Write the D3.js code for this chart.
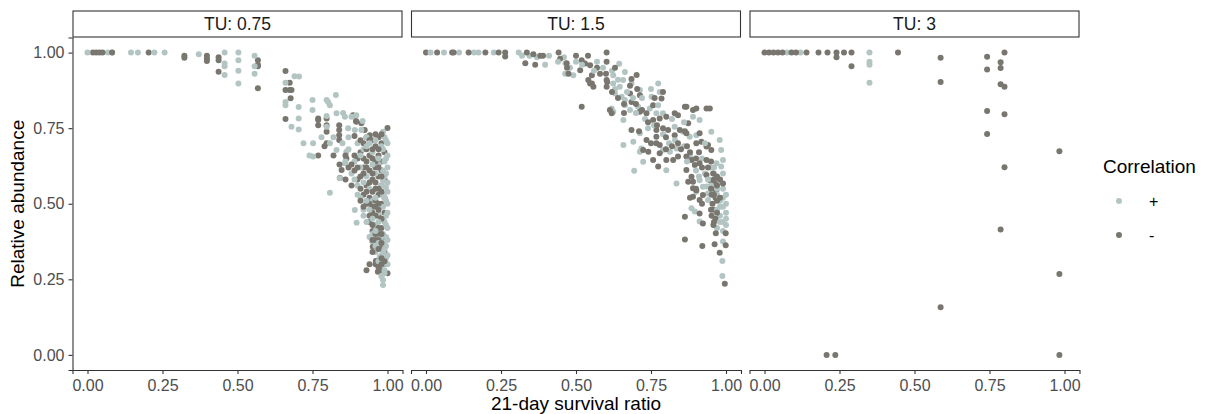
<!DOCTYPE html>
<html>
<head>
<meta charset="utf-8">
<script src="https://cdn.jsdelivr.net/npm/d3@7"></script>
<style>
  body { margin: 0; background: #fff; }
  svg { display: block; font-family: "Liberation Sans", Arial, Helvetica, sans-serif; }
</style>
</head>
<body>
<div id="chart"></div>
<script>
// facet labels
const panels = ['TU: 0.75', 'TU: 1.5', 'TU: 3'];
const xTicks = [0, 0.25, 0.5, 0.75, 1];
const yTicks = [0, 0.25, 0.5, 0.75, 1];
const corrLevels = ['+', '-'];

// [survival ratio, relative abundance]
const tu075Pos = [
  [0,1],[0.068,1],[0.082,1],[0.145,1],[0.168,1],[0.223,1],[0.257,1],
  [0.371,0.995],[0.457,1],[0.457,0.964],[0.457,0.955],[0.457,0.926],[0.503,1],[0.503,0.975],[0.503,0.94],[0.503,0.898],
  [0.557,0.99],[0.557,0.955],[0.557,0.93],
  [0.66,0.90],[0.69,0.922],[0.705,0.921],[0.66,0.837],[0.66,0.826],[0.704,0.82],[0.68,0.755],[0.704,0.782],[0.704,0.746],
  [0.75,0.843],[0.75,0.81],[0.797,0.843],[0.828,0.86],[0.808,0.826],[0.797,0.79],[0.802,0.837],[0.83,0.799],[0.852,0.80],
  [0.858,0.788],[0.88,0.788],[0.896,0.793],[0.869,0.75],[0.891,0.744],[0.917,0.774],[0.913,0.744],[0.797,0.755],[0.985,0.738],
  [0.752,0.70],[0.752,0.656],[0.808,0.70],[0.83,0.678],[0.863,0.672],[0.858,0.634],[0.841,0.584],[0.808,0.536],
  [0.891,0.479],[0.897,0.437],[0.949,0.375],[0.974,0.325],[0.985,0.248],[0.985,0.231],
  [0.90,0.70],[0.93,0.72],[0.96,0.71],[0.99,0.72],[1.0,0.70],[0.92,0.68],[0.95,0.67],[0.98,0.69],[1.0,0.66],
  [0.89,0.64],[0.91,0.62],[0.97,0.63],[0.99,0.64],[1.0,0.62],[0.88,0.60],[0.93,0.59],[0.96,0.60],[0.99,0.59],[1.0,0.57],
  [0.90,0.56],[0.94,0.55],[0.98,0.56],[1.0,0.54],[0.91,0.52],[0.95,0.51],[0.99,0.52],[1.0,0.50],[0.92,0.48],[0.97,0.47],
  [1.0,0.47],[0.93,0.44],[0.96,0.43],[0.99,0.44],[1.0,0.42],[0.95,0.40],[0.98,0.39],[1.0,0.38],[0.96,0.36],[0.99,0.35],
  [1.0,0.33],[0.97,0.31],[1.0,0.30],[0.99,0.28],[0.98,0.26],
  [0.995,0.71],[0.985,0.68],[0.995,0.65],[0.985,0.61],[0.995,0.60],[0.985,0.575],[0.995,0.555],[0.985,0.53],[0.995,0.51],
  [0.985,0.49],[0.995,0.46],[0.985,0.45],[0.995,0.43],[0.985,0.40],[0.995,0.39],[0.985,0.37],[0.995,0.36],[0.985,0.34],
  [0.995,0.32],[0.985,0.30],[0.94,0.70],[0.91,0.66],[0.87,0.68],[0.86,0.64],[0.89,0.58],[0.92,0.57],[0.90,0.53],[0.93,0.51],
  [0.92,0.46],[0.94,0.48],[0.96,0.52],[0.95,0.45],[0.97,0.44],[0.94,0.39],[0.96,0.41],[0.97,0.37],[0.98,0.33],[0.96,0.34],
  [0.99,0.27],[0.97,0.65],[0.95,0.63],[0.85,0.70],[0.87,0.72],[0.82,0.72],[0.93,0.69],[0.78,0.72],[0.72,0.70],[0.74,0.66]
];
const tu075Neg = [
  [0.018,1],[0.029,1],[0.04,1],[0.05,1],[0.082,1],[0.204,1],[0.323,0.99],[0.323,0.983],[0.398,0.99],[0.398,0.98],[0.398,0.972],
  [0.437,0.985],[0.437,0.975],[0.437,0.937],[0.568,0.975],[0.568,0.96],[0.568,0.955],[0.568,0.882],
  [0.66,0.939],[0.674,0.90],[0.66,0.876],[0.674,0.876],[0.68,0.876],[0.677,0.849],[0.66,0.78],
  [0.769,0.782],[0.769,0.777],[0.769,0.76],[0.797,0.782],[0.797,0.76],[0.797,0.738],[0.839,0.76],[0.839,0.744],[0.839,0.727],
  [0.839,0.711],[0.885,0.793],[0.895,0.774],[0.89,0.724],[1.0,0.751],[0.896,0.771],[0.913,0.766],[0.924,0.744],[0.941,0.727],
  [0.769,0.66],[0.797,0.70],[0.863,0.65],[0.847,0.612],[0.841,0.585],
  [0.93,0.72],[0.95,0.71],[0.97,0.72],[0.92,0.70],[0.96,0.69],[0.98,0.70],[0.91,0.67],[0.94,0.66],[0.97,0.66],[0.99,0.67],
  [0.90,0.65],[0.93,0.64],[0.95,0.65],[0.98,0.64],[0.92,0.62],[0.94,0.61],[0.96,0.62],[0.98,0.61],[0.91,0.59],[0.95,0.58],
  [0.97,0.59],[0.99,0.58],[0.93,0.56],[0.96,0.55],[0.98,0.56],[0.92,0.53],[0.94,0.52],[0.97,0.53],[0.99,0.52],[0.93,0.50],
  [0.96,0.49],[0.98,0.50],[0.95,0.47],[0.97,0.46],[0.99,0.47],[0.94,0.44],[0.96,0.43],[0.98,0.42],[0.95,0.41],[0.97,0.40],
  [0.99,0.39],[0.96,0.38],[0.98,0.36],[0.951,0.358],[0.99,0.34],[0.961,0.311],[0.97,0.31],[0.99,0.30],[0.96,0.30],[0.93,0.28],
  [0.968,0.275],[0.98,0.28],[1.0,0.27],[0.91,0.55],[0.88,0.56],[0.90,0.58],[0.87,0.62],[0.89,0.61],
  [0.94,0.71],[0.96,0.73],[0.98,0.73],[0.91,0.71],[0.93,0.68],[0.95,0.68],[0.97,0.68],[0.89,0.66],[0.92,0.65],[0.96,0.64],
  [0.97,0.62],[0.93,0.62],[0.95,0.60],[0.92,0.60],[0.98,0.59],[0.94,0.57],[0.96,0.57],[0.97,0.55],[0.95,0.54],[0.93,0.54],
  [0.98,0.54],[0.96,0.51],[0.97,0.50],[0.94,0.50],[0.95,0.49],[0.97,0.48],[0.96,0.46],[0.98,0.45],[0.94,0.46],[0.95,0.43],
  [0.97,0.42],[0.96,0.40],[0.98,0.40],[0.97,0.38],[0.95,0.38],[0.98,0.37],[0.97,0.35],[0.95,0.34],[0.98,0.32],[0.97,0.29],
  [0.98,0.30],[0.94,0.30],[0.99,0.31],[0.86,0.66],[0.88,0.63],[0.90,0.62],[0.82,0.66],[0.79,0.69],[0.84,0.63],[0.86,0.58],
  [0.91,0.51],[0.92,0.49]
];
const tu15Pos = [
  [0.015,1],[0.06,1],[0.11,1],[0.16,1],[0.175,1],[0.226,1],[0.309,1],[0.32,0.99],[0.345,0.99],[0.37,0.985],[0.397,0.96],
  [0.46,0.985],[0.465,0.965],[0.464,0.93],[0.491,0.925],[0.48,0.95],[0.624,0.925],[0.644,0.963],[0.663,0.936],[0.657,0.909],
  [0.624,0.898],[0.646,0.887],[0.685,0.898],[0.63,0.865],[0.652,0.854],[0.663,0.843],[0.713,0.876],[0.752,0.854],[0.774,0.898],
  [0.779,0.870],[0.619,0.815],[0.624,0.804],[0.663,0.826],[0.68,0.81],[0.707,0.821],[0.746,0.815],[0.774,0.826],[0.768,0.799],
  [0.79,0.799],[0.89,0.788],[0.912,0.777],[0.951,0.738],[0.658,0.777],[0.713,0.733],[0.691,0.705],[0.658,0.694],[0.718,0.683],
  [0.713,0.672],[0.829,0.755],[0.857,0.738],[0.879,0.722],[0.901,0.727],[0.979,0.711],[0.984,0.678],[0.79,0.678],[0.813,0.672],
  [0.835,0.683],[0.801,0.611],[0.724,0.639],[0.694,0.609],[0.835,0.567],[0.912,0.578],[0.923,0.556],[0.94,0.534],[0.979,0.578],
  [0.984,0.623],[0.99,0.645],[0.968,0.634],[0.88,0.66],[0.92,0.65],[0.95,0.62],[0.96,0.60],[0.93,0.60],
  [0.901,0.54],[0.885,0.485],[0.896,0.474],[0.912,0.441],[0.935,0.557],[0.946,0.534],[0.94,0.512],
  [0.98,0.57],[0.99,0.55],[1.0,0.53],[0.98,0.51],[0.99,0.49],[1.0,0.47],[0.98,0.46],[0.99,0.44],[1.0,0.43],[0.97,0.42],
  [0.99,0.41],[0.99,0.375],[0.988,0.311],[0.988,0.261],
  [0.50,0.97],[0.52,0.96],[0.57,0.97],[0.59,0.95],[0.62,0.94],[0.63,0.88],[0.67,0.87],[0.69,0.85],[0.70,0.80],[0.73,0.78],
  [0.74,0.75],[0.76,0.76],[0.79,0.73],[0.81,0.70],[0.83,0.71],[0.86,0.69],[0.87,0.64],[0.90,0.61],[0.91,0.59],[0.94,0.58],
  [0.95,0.56],[0.97,0.55],[0.97,0.53],[0.98,0.49],[0.97,0.48],[1.0,0.50],[1.0,0.45],[0.98,0.44],[0.99,0.52],[0.96,0.62],
  [0.99,0.60],[0.93,0.70],[0.86,0.77],[0.82,0.78],[0.72,0.85],[0.75,0.88],[0.64,0.91],[0.56,0.94],[0.41,0.99],[0.44,0.97]
];
const tu15Neg = [
  [0,1],[0.037,1],[0.087,1],[0.092,1],[0.142,1],[0.198,1],[0.242,1],[0.264,1],[0.264,0.987],[0.336,1],[0.331,0.965],[0.364,0.96],
  [0.358,0.995],[0.381,0.99],[0.39,0.99],[0.442,1],[0.447,0.98],[0.469,0.965],[0.475,0.93],[0.47,0.95],[0.519,0.975],[0.53,0.964],
  [0.547,0.958],[0.514,0.942],[0.553,0.925],[0.541,0.909],[0.553,0.898],[0.519,0.821],[0.602,1],[0.602,0.97],[0.602,0.909],
  [0.602,0.887],[0.547,0.898],[0.558,0.887],
  [0.68,0.865],[0.713,0.859],[0.757,0.826],[0.785,0.848],[0.619,0.799],[0.713,0.804],[0.735,0.799],[0.757,0.777],[0.779,0.782],
  [0.801,0.788],[0.829,0.799],[0.84,0.793],[0.868,0.821],[0.89,0.81],[0.901,0.815],[0.935,0.815],[0.685,0.744],[0.735,0.711],
  [0.724,0.678],[0.741,0.672],[0.768,0.744],[0.768,0.722],[0.768,0.70],[0.779,0.694],[0.807,0.744],[0.829,0.727],[0.846,0.744],
  [0.874,0.766],[0.868,0.733],[0.912,0.733],[0.901,0.70],[0.918,0.705],[0.935,0.689],[0.94,0.694],[0.951,0.678],[0.779,0.667],
  [0.757,0.645],[0.774,0.623],[0.801,0.645],[0.824,0.645],[0.84,0.656],[0.868,0.656],[0.885,0.645],[0.896,0.628],[0.912,0.634],
  [0.935,0.645],[0.868,0.612],[0.885,0.589],[0.89,0.573],[0.901,0.545],[0.935,0.595],[0.946,0.578],[0.962,0.567],[0.968,0.545],
  [0.99,0.567],[0.957,0.60],[0.604,0.903],[0.613,0.81],[0.685,0.837],[0.702,0.926],[0.704,0.88],[0.685,0.913],[0.79,0.87],
  [0.762,0.85],[0.863,0.821],[0.946,0.815],[0.863,0.74],
  [0.874,0.573],[0.89,0.551],[0.89,0.523],[0.912,0.512],[0.923,0.529],[0.912,0.468],[0.923,0.435],[0.955,0.57],[0.96,0.55],
  [0.952,0.53],[0.965,0.52],[0.955,0.50],[0.96,0.48],[0.952,0.46],[0.965,0.45],[0.958,0.43],[0.863,0.457],[0.863,0.382],
  [0.921,0.36],[0.962,0.366],[0.979,0.338],[0.999,0.363],[0.966,0.402],[0.999,0.402],[0.996,0.235],
  [0.50,0.99],[0.54,0.99],[0.57,0.95],[0.58,0.93],[0.60,0.93],[0.62,0.87],[0.64,0.85],[0.66,0.83],[0.70,0.83],[0.72,0.81],
  [0.74,0.77],[0.77,0.76],[0.79,0.75],[0.80,0.72],[0.82,0.69],[0.84,0.70],[0.85,0.68],[0.87,0.69],[0.88,0.67],[0.90,0.65],
  [0.91,0.67],[0.92,0.62],[0.94,0.62],[0.95,0.64],[0.96,0.58],[0.97,0.59],[0.98,0.58],[0.95,0.55],[0.97,0.56],[0.96,0.53],
  [0.97,0.51],[0.95,0.48],[0.97,0.47],[0.96,0.44],[0.98,0.52],[0.90,0.55],[0.88,0.52],[0.92,0.50],[0.80,0.68],[0.75,0.70],
  [0.71,0.74],[0.66,0.80],[0.68,0.89],[0.63,0.95]
];
const tu3Pos = [
  [0.075,1],[0.12,1],[0.35,1],[0.35,0.97],[0.35,0.96],[0.35,0.90]
];
const tu3Neg = [
  [0,1],[0.015,1],[0.03,1],[0.045,1],[0.06,1],[0.09,1],[0.105,1],[0.14,1],[0.18,1],[0.21,1],[0.24,1],[0.265,1],[0.29,1],
  [0.24,0.985],[0.29,0.955],[0.445,1],[0.587,0.983],[0.587,0.903],[0.742,0.986],[0.742,0.944],[0.787,0.968],[0.787,0.949],
  [0.80,1],[0.787,0.895],[0.80,0.887],[0.742,0.807],[0.80,0.796],[0.742,0.731],[0.983,0.674],[0.80,0.621],[0.787,0.415],
  [0.983,0.268],[0.587,0.158],[0.207,0],[0.236,0],[0.983,0]
];

const seriesByPanel = [[tu075Pos, tu075Neg], [tu15Pos, tu15Neg], [tu3Pos, tu3Neg]];

const width = 1206, height = 414;
const colors = { '+': '#b3c5c3', '-': '#78766e' };
const panelW = 330, gap = 8.5, left0 = 72.5;
const stripTop = 11, stripH = 26;
const plotTop = 37.5, plotBottom = 370;
const ptR = 3;

const svg = d3.select('#chart').append('svg')
  .attr('width', width)
  .attr('height', height);

const y = d3.scaleLinear().domain([-0.05, 1.05]).range([plotBottom, plotTop]);

panels.forEach((label, i) => {
  const x0 = left0 + i * (panelW + gap);
  const x = d3.scaleLinear().domain([-0.05, 1.05]).range([x0, x0 + panelW]);
  const g = svg.append('g');

  // strip
  g.append('rect')
    .attr('x', x0 + 0.5).attr('y', stripTop)
    .attr('width', panelW - 1).attr('height', stripH)
    .attr('fill', '#fff').attr('stroke', '#333').attr('stroke-width', 1.1);
  g.append('text')
    .attr('x', x0 + panelW / 2).attr('y', stripTop + stripH / 2)
    .attr('dy', '0.36em').attr('text-anchor', 'middle')
    .style('font-size', '17.5px').attr('fill', '#1a1a1a')
    .text(label);

  // points, interleaved so the two groups overlap like the original
  const [pos, neg] = seriesByPanel[i];
  const pts = [];
  for (let k = 0; k < Math.max(pos.length, neg.length); k++) {
    if (k < neg.length) pts.push({ v: neg[k], c: '-' });
    if (k < pos.length) pts.push({ v: pos[k], c: '+' });
  }
  g.append('g').selectAll('circle')
    .data(pts)
    .join('circle')
      .attr('cx', d => x(d.v[0]))
      .attr('cy', d => y(d.v[1]))
      .attr('r', ptR)
      .attr('fill', d => colors[d.c]);

  // x axis
  const xa = g.append('g')
    .attr('transform', `translate(0,${plotBottom})`)
    .call(d3.axisBottom(x).tickValues(xTicks).tickFormat(d3.format('.2f')).tickSizeOuter(0).tickSize(4));
  xa.attr('font-family', null).attr('font-size', null);
  xa.select('.domain').attr('stroke', '#333').attr('stroke-width', 1.1);
  xa.selectAll('.tick line').attr('stroke', '#333').attr('stroke-width', 1.1);
  xa.selectAll('.tick text').style('font-size', '16px').attr('fill', '#4d4d4d').attr('dy', '0.9em');

  if (i === 0) {
    const ya = g.append('g')
      .attr('transform', `translate(${x0},0)`)
      .call(d3.axisLeft(y).tickValues(yTicks).tickFormat(d3.format('.2f')).tickSizeOuter(0).tickSize(4));
    ya.attr('font-family', null).attr('font-size', null);
    ya.select('.domain').attr('stroke', '#333').attr('stroke-width', 1.1);
    ya.selectAll('.tick line').attr('stroke', '#333').attr('stroke-width', 1.1);
    ya.selectAll('.tick text').style('font-size', '16px').attr('fill', '#4d4d4d').attr('x', -8);
  }
});

// axis titles
svg.append('text')
  .attr('x', left0 + (3 * panelW + 2 * gap) / 2).attr('y', 410)
  .attr('text-anchor', 'middle').style('font-size', '19px').attr('fill', '#000')
  .text('21-day survival ratio');
svg.append('text')
  .attr('transform', `translate(24,${(plotTop + plotBottom) / 2}) rotate(-90)`)
  .attr('text-anchor', 'middle').style('font-size', '19px').attr('fill', '#000')
  .text('Relative abundance');

// legend
const lg = svg.append('g').attr('transform', 'translate(1103,0)');
lg.append('text').attr('x', 0).attr('y', 173).style('font-size', '19px').attr('fill', '#000').text('Correlation');
corrLevels.forEach((lvl, k) => {
  const cy = 201 + k * 34;
  lg.append('circle').attr('cx', 16).attr('cy', cy).attr('r', ptR).attr('fill', colors[lvl]);
  lg.append('text').attr('x', 46).attr('y', cy).attr('dy', '0.35em')
    .style('font-size', '16px').attr('fill', '#000').text(lvl);
});
</script>
</body>
</html>
